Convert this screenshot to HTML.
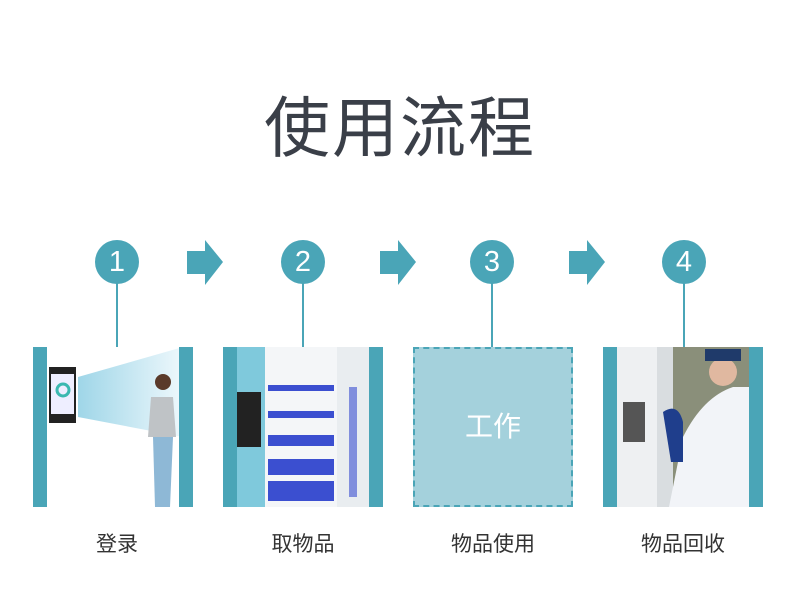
<!DOCTYPE html>
<html><head><meta charset="utf-8"><style>
body{margin:0;width:800px;height:600px;background:#fff;position:relative;overflow:hidden;font-family:"Liberation Sans","Noto Sans CJK SC",sans-serif}
.a{position:absolute}
.t{left:0;width:800px;top:88px;text-align:center;font-size:66px;color:#3a3f48;line-height:80px;letter-spacing:2px}
.c{width:44px;height:44px;border-radius:50%;background:#4aa5b7;color:#fff;font-size:29px;line-height:44px;text-align:center;top:240px}
.l{width:2px;background:#4aa5b7;top:280px;height:67px}
.p{top:347px;width:160px;height:160px;background:#fff}
.bar{top:0;width:14px;height:160px;background:#4aa5b7}
.lb{top:528px;width:160px;text-align:center;font-size:21px;color:#333}
</style></head><body>
<div class="a t">使用流程</div>
<svg class="a" style="left:0;top:0" width="800" height="600">
<g fill="#4aa5b7">
<polygon points="187,251 205,251 205,240 223,262 205,285 205,274 187,274"/>
<polygon points="380,251 398,251 398,240 416,262 398,285 398,274 380,274"/>
<polygon points="569,251 587,251 587,240 605,262 587,285 587,274 569,274"/>
</g></svg>
<div class="a c" style="left:95px">1</div>
<div class="a c" style="left:281px">2</div>
<div class="a c" style="left:470px">3</div>
<div class="a c" style="left:662px">4</div>
<div class="a l" style="left:116px;height:67px"></div>
<div class="a l" style="left:302px"></div>
<div class="a l" style="left:491px"></div>
<div class="a l" style="left:683px"></div>

<div class="a p" style="left:33px">
 <svg class="a" style="left:0;top:0" width="160" height="160">
  <defs><linearGradient id="g" x1="0" x2="1"><stop offset="0" stop-color="#9fd6e8"/><stop offset="1" stop-color="#eef8fc"/></linearGradient></defs>
  <polygon points="45,30 150,0 150,90 45,70" fill="url(#g)"/>
  <rect x="16" y="20" width="27" height="56" fill="#222"/>
  <rect x="18" y="27" width="23" height="40" fill="#eef"/>
  <circle cx="30" cy="43" r="6" fill="none" stroke="#3bb8b0" stroke-width="3"/>
  <circle cx="130" cy="35" r="8" fill="#5a3a2a"/>
  <path d="M118,50 h22 l3,40 h-28z" fill="#bfc3c6"/>
  <path d="M120,90 h20 l-3,70 h-15z" fill="#8eb8d6"/>
 </svg>
 <div class="a bar" style="left:0"></div><div class="a bar" style="left:146px"></div>
</div>
<div class="a p" style="left:223px;background:#e9edf0">
 <div class="a" style="left:14px;top:0;width:28px;height:160px;background:#7fc9dc"></div>
 <div class="a" style="left:14px;top:45px;width:24px;height:55px;background:#222"></div>
 <svg class="a" style="left:42px;top:0" width="100" height="160">
  <rect x="0" y="0" width="72" height="160" fill="#f4f6f8"/>
  <g fill="#3b4fd0">
   <rect x="3" y="38" width="66" height="6"/><rect x="3" y="64" width="66" height="7"/>
   <rect x="3" y="88" width="66" height="11"/><rect x="3" y="112" width="66" height="16"/><rect x="3" y="134" width="66" height="20"/>
   <rect x="84" y="40" width="8" height="110" opacity=".6"/>
  </g>
 </svg>
 <div class="a bar" style="left:0"></div><div class="a bar" style="left:146px"></div>
</div>
<div class="a p" style="left:413px;background:#a4d1dc;border:2px dashed #4aa5b7;box-sizing:border-box;color:#fff;font-size:28px;line-height:156px;text-align:center">工作</div>
<div class="a p" style="left:603px;background:#d9dde0">
 <svg class="a" style="left:0;top:0" width="160" height="160">
  <rect x="14" y="0" width="40" height="160" fill="#eef0f2"/>
  <rect x="20" y="55" width="22" height="40" fill="#555"/>
  <rect x="70" y="0" width="76" height="160" fill="#8a8f7a"/>
  <path d="M80,90 q20,-40 50,-50 l16,0 l0,120 h-80z" fill="#f2f4f8"/>
  <circle cx="120" cy="25" r="14" fill="#e0b8a0"/>
  <rect x="102" y="2" width="36" height="12" fill="#1f3a6a"/>
  <path d="M60,65 q15,-10 20,10 l0,40 h-12z" fill="#1f3e8c"/>
 </svg>
 <div class="a bar" style="left:0"></div><div class="a bar" style="left:146px"></div>
</div>
<div class="a lb" style="left:37px">登录</div>
<div class="a lb" style="left:223px">取物品</div>
<div class="a lb" style="left:413px">物品使用</div>
<div class="a lb" style="left:603px">物品回收</div>
</body></html>
